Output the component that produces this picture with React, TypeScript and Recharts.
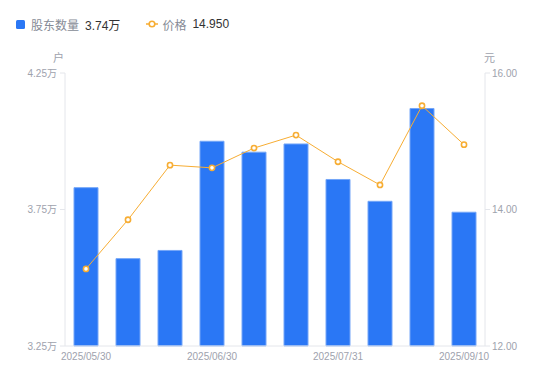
import { ComposedChart, Bar, Line, XAxis, YAxis } from "recharts";

const dates = [
  "2025/05/30",
  "2025/06/10",
  "2025/06/20",
  "2025/06/30",
  "2025/07/10",
  "2025/07/20",
  "2025/07/31",
  "2025/08/20",
  "2025/08/31",
  "2025/09/10",
];
const holders = [3.83, 3.57, 3.6, 4.0, 3.96, 3.99, 3.86, 3.78, 4.12, 3.74];
const prices = [13.13, 13.85, 14.65, 14.61, 14.9, 15.09, 14.7, 14.36, 15.52, 14.95];
const leftTicks = [3.25, 3.75, 4.25];
const rightTicks = [12, 14, 16];

const BLUE = "#2a77f5";
const ORANGE = "#f7ad33";
const GRAY = "#9ea2ad";
const AXIS = "#e4e6eb";
const FONT = "'Liberation Sans', Arial, 'Noto Sans CJK SC', sans-serif";

const data = dates.map((d, i) => ({ date: d, holders: holders[i], price: prices[i] }));

export default function App() {
  return (
    <div style={{ position: "absolute", left: 0, top: 0, width: 550, height: 381, background: "#fff", fontFamily: FONT }}>
      {/* legend */}
      <div style={{ position: "absolute", left: 16, top: 16, height: 16, display: "flex", alignItems: "center", fontSize: 12, whiteSpace: "nowrap" }}>
        <span style={{ width: 9, height: 9, background: BLUE, borderRadius: 1.5, marginRight: 6 }} />
        <span style={{ color: "#868b96" }}>股东数量</span>
        <span style={{ color: "#333", marginLeft: 6 }}>3.74万</span>
        <svg width={12} height={10} style={{ marginLeft: 26, marginRight: 4 }}>
          <line x1={0} y1={5} x2={12} y2={5} stroke={ORANGE} strokeWidth={1.5} />
          <circle cx={6} cy={5} r={2.8} fill="#fff" stroke={ORANGE} strokeWidth={1.6} />
        </svg>
        <span style={{ color: "#868b96" }}>价格</span>
        <span style={{ color: "#333", marginLeft: 6 }}>14.950</span>
      </div>
      {/* unit labels */}
      <div style={{ position: "absolute", left: 53, top: 49, fontSize: 11, color: GRAY }}>户</div>
      <div style={{ position: "absolute", left: 484, top: 49, fontSize: 11, color: GRAY }}>元</div>

      <ComposedChart
        width={550}
        height={381}
        data={data}
        margin={{ top: 73, right: 0, left: 0, bottom: 0 }}
        barCategoryGap={0}
        style={{ position: "absolute", left: 0, top: 0 }}
      >
        <XAxis
          dataKey="date"
          height={35}
          interval={2}
          tickLine={false}
          tickSize={0}
          tickMargin={7}
          axisLine={{ stroke: AXIS }}
          tick={{ fill: GRAY, fontSize: 10, fontFamily: FONT }}
        />
        <YAxis
          yAxisId="left"
          orientation="left"
          width={65}
          domain={[3.25, 4.25]}
          ticks={leftTicks}
          tickFormatter={(v: number) => v.toFixed(2) + "万"}
          tickSize={5}
          tickMargin={3}
          tickLine={{ stroke: AXIS }}
          axisLine={{ stroke: AXIS }}
          tick={{ fill: GRAY, fontSize: 10, fontFamily: FONT }}
        />
        <YAxis
          yAxisId="right"
          orientation="right"
          width={65}
          domain={[12, 16]}
          ticks={rightTicks}
          tickFormatter={(v: number) => v.toFixed(2)}
          tickSize={5}
          tickMargin={2}
          tickLine={{ stroke: AXIS }}
          axisLine={{ stroke: AXIS }}
          tick={{ fill: GRAY, fontSize: 10, fontFamily: FONT }}
        />
        <Bar
          yAxisId="left"
          dataKey="holders"
          barSize={24}
          fill={BLUE}
          stroke="#74a6f8"
          strokeWidth={1}
          isAnimationActive={false}
        />
        <Line
          yAxisId="right"
          dataKey="price"
          type="linear"
          stroke={ORANGE}
          strokeWidth={1}
          dot={{ r: 2.6, fill: "#fff", stroke: ORANGE, strokeWidth: 1.6 }}
          activeDot={false}
          isAnimationActive={false}
        />
      </ComposedChart>
    </div>
  );
}
